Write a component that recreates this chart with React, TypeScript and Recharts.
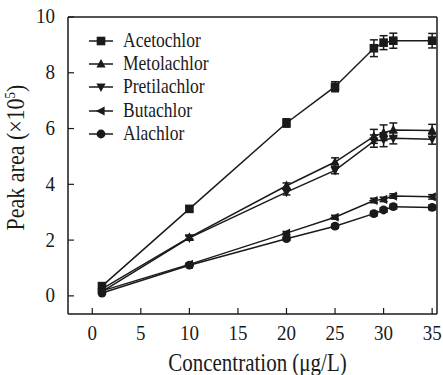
import { LineChart, Line, XAxis, YAxis, ErrorBar, ReferenceLine } from 'recharts'

/* ── data (peak area ×10^5 vs concentration µg/L) ── */

const concentrations = [1, 10, 20, 25, 29, 30, 31, 35]
const acetochlor = [0.35, 3.12, 6.2, 7.5, 8.88, 9.08, 9.15, 9.15]
const acetochlorErr = [0.06, 0.08, 0.15, 0.18, 0.3, 0.25, 0.27, 0.26]
const metolachlor = [0.25, 2.1, 3.95, 4.8, 5.72, 5.85, 5.95, 5.93]
const metolachlorErr = [0.05, 0.06, 0.1, 0.15, 0.25, 0.28, 0.25, 0.22]
const pretilachlor = [0.15, 2.08, 3.72, 4.5, 5.55, 5.6, 5.65, 5.62]
const pretilachlorErr = [0.05, 0.06, 0.1, 0.12, 0.22, 0.25, 0.2, 0.18]
const butachlor = [0.18, 1.13, 2.25, 2.82, 3.42, 3.46, 3.58, 3.55]
const butachlorErr = [0.04, 0.05, 0.06, 0.07, 0.08, 0.08, 0.08, 0.08]
const alachlor = [0.1, 1.1, 2.05, 2.5, 2.95, 3.08, 3.2, 3.17]
const alachlorErr = [0.04, 0.05, 0.06, 0.07, 0.08, 0.08, 0.08, 0.08]

const xTicks = [0, 5, 10, 15, 20, 25, 30, 35]
const yTicks = [0, 2, 4, 6, 8, 10]
const xDomain = [-2.5, 35.5]
const yDomain = [-0.65, 10]

type Shape = 'square' | 'up' | 'down' | 'left' | 'circle'

const series: { key: string; name: string; shape: Shape }[] = [
  { key: 'aceto', name: 'Acetochlor', shape: 'square' },
  { key: 'meto', name: 'Metolachlor', shape: 'up' },
  { key: 'preti', name: 'Pretilachlor', shape: 'down' },
  { key: 'buta', name: 'Butachlor', shape: 'left' },
  { key: 'ala', name: 'Alachlor', shape: 'circle' },
]

const data = concentrations.map((c, i) => ({
  x: c,
  aceto: acetochlor[i], acetoErr: acetochlorErr[i],
  meto: metolachlor[i], metoErr: metolachlorErr[i],
  preti: pretilachlor[i], pretiErr: pretilachlorErr[i],
  buta: butachlor[i], butaErr: butachlorErr[i],
  ala: alachlor[i], alaErr: alachlorErr[i],
}))

const INK = '#1a1a1a'
const FONT = '"Liberation Serif", "Times New Roman", serif'
const STRETCH = 1.15 // the source font is taller than Times

/* ── markers ── */

function Marker({ shape, cx, cy }: { shape: Shape; cx: number; cy: number }) {
  const s = 4.6
  switch (shape) {
    case 'square':
      return <rect x={cx - 4.3} y={cy - 4.3} width={8.6} height={8.6} fill={INK} />
    case 'up':
      return <polygon points={`${cx},${cy - s - 0.5} ${cx + s},${cy + s - 1} ${cx - s},${cy + s - 1}`} fill={INK} />
    case 'down':
      return <polygon points={`${cx},${cy + s + 0.5} ${cx + s},${cy - s + 1} ${cx - s},${cy - s + 1}`} fill={INK} />
    case 'left':
      return <polygon points={`${cx - s - 0.5},${cy} ${cx + s - 1},${cy - s} ${cx + s - 1},${cy + s}`} fill={INK} />
    default:
      return <circle cx={cx} cy={cy} r={4.4} fill={INK} />
  }
}

// tick text, stretched vertically around its own baseline
function XTick({ x, y, payload }: any) {
  const by = y + 14
  return (
    <text x={x} y={by} transform={`translate(0 ${by}) scale(1 ${STRETCH}) translate(0 ${-by})`} textAnchor="middle" fill={INK} fontSize={19} fontFamily={FONT}>
      {payload.value}
    </text>
  )
}

function YTick({ x, y, payload }: any) {
  const by = y + 6.5
  return (
    <text x={x} y={by} transform={`translate(0 ${by}) scale(1 ${STRETCH}) translate(0 ${-by})`} textAnchor="end" fill={INK} fontSize={19} fontFamily={FONT}>
      {payload.value}
    </text>
  )
}

function LegendBox() {
  return (
    <div style={{ position: 'absolute', left: 86, top: 29, fontFamily: FONT, fontSize: 17.5, color: INK }}>
      {series.map((s) => (
        <div key={s.key} style={{ display: 'flex', alignItems: 'center', height: 23.3 }}>
          <svg width={37} height={14} style={{ flex: 'none' }}>
            <line x1={3} y1={7} x2={27} y2={7} stroke={INK} strokeWidth={1.5} />
            <Marker shape={s.shape} cx={15} cy={7} />
          </svg>
          <span style={{ lineHeight: 1, display: 'inline-block', transform: `scaleY(${STRETCH})` }}>{s.name}</span>
        </div>
      ))}
    </div>
  )
}

export default function App() {
  return (
    <div style={{ position: 'relative', width: 443, height: 375, background: '#fff' }}>
      <style>{'body{margin:0}'}</style>
      <LineChart width={443} height={375} data={data} margin={{ top: 17, right: 6, bottom: 0, left: 0 }}>
        <XAxis
          dataKey="x"
          type="number"
          domain={xDomain}
          ticks={xTicks}
          allowDataOverflow
          height={61}
          tickSize={-6}
          tickMargin={18}
          axisLine={{ stroke: INK, strokeWidth: 1.5 }}
          tickLine={{ stroke: INK, strokeWidth: 1.2 }}
          tick={<XTick />}
          label={({ viewBox }: any) => {
            const cx = viewBox.x + viewBox.width / 2 + 5
            const by = 371
            return (
              <text x={cx} y={by} transform={`translate(0 ${by}) scale(1 ${STRETCH}) translate(0 ${-by})`} textAnchor="middle" fill={INK} fontSize={21} fontFamily={FONT}>
                Concentration (μg/L)
              </text>
            )
          }}
        />
        <YAxis
          type="number"
          domain={yDomain}
          ticks={yTicks}
          allowDataOverflow
          width={68}
          tickSize={-6}
          tickMargin={19}
          axisLine={{ stroke: INK, strokeWidth: 1.5 }}
          tickLine={{ stroke: INK, strokeWidth: 1.2 }}
          tick={<YTick />}
          label={({ viewBox }: any) => {
            const cx = 24
            const cy = viewBox.y + viewBox.height / 2 - 8
            return (
              <text x={cx} y={cy} transform={`rotate(-90 ${cx} ${cy}) translate(0 ${cy}) scale(1 ${STRETCH}) translate(0 ${-cy})`} textAnchor="middle" fill={INK} fontSize={22} fontFamily={FONT}>
                Peak area (×10<tspan dy={-8} fontSize={13}>5</tspan><tspan dy={8}>)</tspan>
              </text>
            )
          }}
        />
        {/* box frame: top and right edges */}
        <ReferenceLine y={yDomain[1]} stroke={INK} strokeWidth={1.5} ifOverflow="visible" />
        <ReferenceLine x={xDomain[1]} stroke={INK} strokeWidth={1.5} ifOverflow="visible" />
        {series.map((s) => (
          <Line
            key={s.key}
            dataKey={s.key}
            name={s.name}
            type="linear"
            stroke={INK}
            strokeWidth={1.5}
            isAnimationActive={false}
            dot={(p: any) => <Marker key={`${s.key}-${p.index}`} shape={s.shape} cx={p.cx} cy={p.cy} />}
            activeDot={false}
          >
            <ErrorBar dataKey={`${s.key}Err`} direction="y" width={4} stroke={INK} strokeWidth={1.5} isAnimationActive={false} />
          </Line>
        ))}
      </LineChart>
      <LegendBox />
    </div>
  )
}
